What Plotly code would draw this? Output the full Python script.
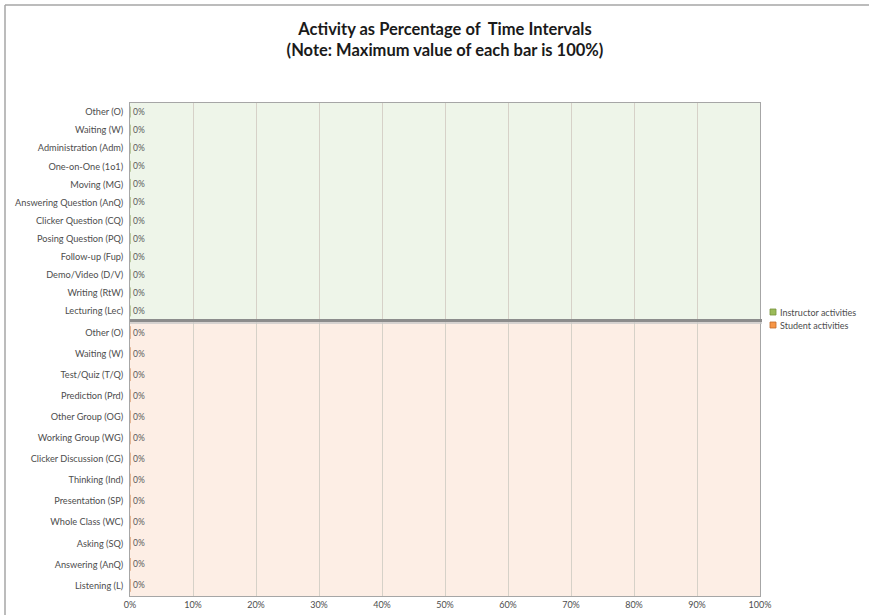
import plotly.graph_objects as go
from plotly.subplots import make_subplots

instructor_categories = [
    "Other (O)", "Waiting (W)", "Administration (Adm)", "One-on-One (1o1)",
    "Moving (MG)", "Answering Question (AnQ)", "Clicker Question (CQ)",
    "Posing Question (PQ)", "Follow-up (Fup)", "Demo/Video (D/V)",
    "Writing (RtW)", "Lecturing (Lec)",
]
instructor_values = [0, 0, 0, 0, 0, 0, 0, 0, 0, 0, 0, 0]

student_categories = [
    "Other (O)", "Waiting (W)", "Test/Quiz (T/Q)", "Prediction (Prd)",
    "Other Group (OG)", "Working Group (WG)", "Clicker Discussion (CG)",
    "Thinking (Ind)", "Presentation (SP)", "Whole Class (WC)",
    "Asking (SQ)", "Answering (AnQ)", "Listening (L)",
]
student_values = [0, 0, 0, 0, 0, 0, 0, 0, 0, 0, 0, 0, 0]

series_names = ["Instructor activities", "Student activities"]
series_colors = ["#9bbb59", "#f79646"]
series_edges = ["#76933c", "#c0692a"]

x_ticks = [0, 0.1, 0.2, 0.3, 0.4, 0.5, 0.6, 0.7, 0.8, 0.9, 1.0]
x_tick_labels = ["0%", "10%", "20%", "30%", "40%", "50%", "60%", "70%", "80%", "90%", "100%"]

W, H = 869, 615
ML, MR, MT, MB = 130, 109, 103, 19
PH = H - MT - MB
PW = W - ML - MR
top_px_bottom = 320
bot_px_top = 322
top_dom = [1 - (top_px_bottom - MT) / PH, 1]
bot_dom = [0, 1 - (bot_px_top - MT) / PH]

def px_x(px):
    return (px - ML) / PW

def px_y(py):
    return 1 - (py - MT) / PH

fig = make_subplots(rows=2, cols=1, shared_xaxes=True)

font_fam = "Lato, 'Open Sans', sans-serif"

for row, (cats, vals) in enumerate([(instructor_categories, instructor_values),
                                    (student_categories, student_values)], start=1):
    fig.add_trace(go.Bar(
        y=cats, x=vals, orientation="h",
        name=series_names[row - 1], marker_color=series_colors[row - 1],
        marker_line=dict(color=series_edges[row - 1], width=0.5),
        text=[f"{v:.0%}" for v in vals], textposition="outside",
        textfont=dict(size=8.5, color="#595959", family=font_fam), cliponaxis=False,
        showlegend=False,
    ), row=row, col=1)

axis_common = dict(showline=True, linecolor="#a6a6a6", linewidth=1, mirror=True)

fig.update_layout(
    width=W, height=H,
    margin=dict(l=ML, r=MR, t=MT, b=MB, autoexpand=False),
    paper_bgcolor="white", plot_bgcolor="white",
    font=dict(family=font_fam, size=9, color="#4d4d4d"),
    title=dict(
        text="<b>Activity as Percentage of  Time Intervals<br>(Note: Maximum value of each bar is 100%)</b>",
        x=0.5, xref="paper", xanchor="center", y=1 - 35 / H, yanchor="middle",
        font=dict(size=16.5, color="#1a1a1a", family=font_fam),
    ),
    showlegend=False,
    bargap=0.4,
)

fig.update_xaxes(range=[0, 1], tickvals=x_ticks, ticktext=x_tick_labels,
                 showgrid=True, gridcolor="#d6d1c8", gridwidth=1, zeroline=False,
                 ticks="", **axis_common)
fig.update_xaxes(showticklabels=False, row=1, col=1)
fig.update_xaxes(tickfont=dict(size=9, color="#4d4d4d"), row=2, col=1)

fig.update_yaxes(autorange="reversed", type="category", ticks="",
                 showgrid=False, tickfont=dict(size=9.2, color="#4d4d4d"),
                 ticklabelstandoff=4, **axis_common)
fig.update_layout(yaxis=dict(domain=top_dom), yaxis2=dict(domain=bot_dom))

# plot-area backgrounds
fig.add_shape(type="rect", xref="x domain", yref="y domain", x0=0, x1=1, y0=0, y1=1,
              fillcolor="#eef5e9", line_width=0, layer="below")
fig.add_shape(type="rect", xref="x2 domain", yref="y2 domain", x0=0, x1=1, y0=0, y1=1,
              fillcolor="#fdeee5", line_width=0, layer="below")

# divider between the two panels
fig.add_shape(type="line", xref="paper", yref="paper", x0=0, x1=px_x(762),
              y0=px_y(320.5), y1=px_y(320.5), line=dict(color="#8c8c8c", width=3))
fig.add_shape(type="line", xref="paper", yref="paper", x0=0, x1=px_x(762),
              y0=px_y(323), y1=px_y(323), line=dict(color="#c8c8c8", width=1.5))

# outer chart border (top and left)
fig.add_shape(type="line", xref="paper", yref="paper", x0=px_x(5), x1=px_x(W + 2),
              y0=px_y(5), y1=px_y(5), line=dict(color="#a6a6a6", width=1.5))
fig.add_shape(type="line", xref="paper", yref="paper", x0=px_x(5), x1=px_x(5),
              y0=px_y(H + 2), y1=px_y(5), line=dict(color="#a6a6a6", width=1.5))

# legend (swatches + labels)
for i, (name, col, edge) in enumerate(zip(series_names, series_colors, series_edges)):
    cy = 312 + 13 * i
    fig.add_shape(type="rect", xref="paper", yref="paper",
                  x0=px_x(770), x1=px_x(776), y0=px_y(cy - 3), y1=px_y(cy + 3),
                  fillcolor=col, line=dict(color=edge, width=0.8))
    fig.add_annotation(text=name, xref="paper", yref="paper",
                       x=px_x(778.5), y=px_y(cy), xanchor="left", yanchor="middle",
                       showarrow=False, font=dict(size=9, color="#4d4d4d", family=font_fam))

fig.write_html("out.html", config={"displayModeBar": False},
               post_script="document.body.style.margin='0';document.body.style.overflow='hidden';")
